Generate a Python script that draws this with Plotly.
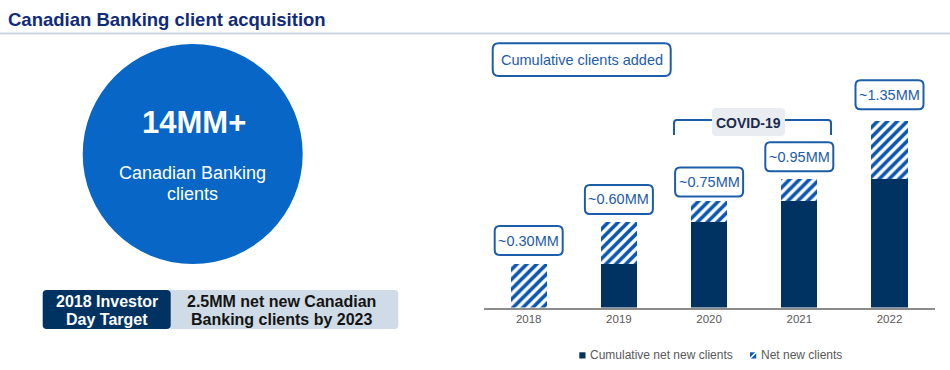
import plotly.graph_objects as go

# ---------------- data ----------------
years = [2018, 2019, 2020, 2021, 2022]
year_labels = ["2018", "2019", "2020", "2021", "2022"]
cumulative_net_new = [0.0, 0.30, 0.59, 0.735, 0.885]   # MM (bar heights as drawn)
net_new = [0.30, 0.29, 0.145, 0.15, 0.40]              # MM (bar heights as drawn)
total_labels = ["~0.30MM", "~0.60MM", "~0.75MM", "~0.95MM", "~1.35MM"]
series_names = ["Cumulative net new clients", "Net new clients"]

# ---------------- style / layout constants ----------------
W, H = 950, 370
FONT = "Arial, Liberation Sans, sans-serif"
NAVY = "#003361"
BLUE = "#0a55b2"
LBLUE = "#1d5ca8"
GREY = "#595959"
label_gap_px = [9, 8, 4.5, 8, 12]   # gap between bar top and value box (layout tweak)

# plot area in pixels
x_left_px, x_right_px = 483.6, 934.6
base_px, top_px = 307.5, 40.0
x_range = [2017.5, 2022.5]
y_max = 1.845
ppx = (x_right_px - x_left_px) / (x_range[1] - x_range[0])
ppu = (base_px - top_px) / y_max


def X(px):
    return px / W


def Y(py):
    return 1 - py / H


def rrect_path(x0, y0, x1, y1, rx, ry):
    # y0 < y1 in the shape's coordinate system (bottom, top)
    return (f"M {x0+rx},{y1} L {x1-rx},{y1} Q {x1},{y1} {x1},{y1-ry} "
            f"L {x1},{y0+ry} Q {x1},{y0} {x1-rx},{y0} L {x0+rx},{y0} "
            f"Q {x0},{y0} {x0},{y0+ry} L {x0},{y1-ry} Q {x0},{y1} {x0+rx},{y1} Z")


def rrect_px(x0, ytop, x1, ybot, r):
    return rrect_path(X(x0), Y(ybot), X(x1), Y(ytop), r / W, r / H)


def ann(text, x, y, size, color, xanchor="center", xref="paper", yref="paper"):
    return dict(text=text, x=x, y=y, xref=xref, yref=yref, xanchor=xanchor, yanchor="middle",
                showarrow=False, font=dict(family=FONT, size=size, color=color))


fig = go.Figure()
fig.add_trace(go.Bar(
    x=years, y=cumulative_net_new, name=series_names[0], width=0.4,
    marker=dict(color=NAVY, line=dict(width=0)), showlegend=False,
))
fig.add_trace(go.Bar(
    x=years, y=net_new, name=series_names[1], width=0.4,
    marker=dict(color="white", line=dict(width=0),
                pattern=dict(shape="/", fgcolor=BLUE, bgcolor="white", fgopacity=1,
                             fillmode="replace", size=7, solidity=0.52)),
    showlegend=False,
))

shapes = []
annotations = []

# title + rule
annotations.append(ann("<b>Canadian Banking client acquisition</b>", X(6), Y(19.5), 18.5, "#0f2b7a",
                       xanchor="left"))
shapes.append(dict(type="line", xref="paper", yref="paper", x0=0, x1=1, y0=Y(33.5), y1=Y(33.5),
                   line=dict(color="#c9d6e2", width=2)))

# circle
shapes.append(dict(type="circle", xref="paper", yref="paper", x0=X(82.7), x1=X(302.7),
                   y0=Y(264), y1=Y(44), fillcolor="#0766c6", line=dict(width=0)))
annotations.append(ann("<b>14MM+</b>", X(193.5), Y(123), 31, "white"))
annotations.append(ann("Canadian Banking", X(192.7), Y(172.5), 18, "white"))
annotations.append(ann("clients", X(192.7), Y(194.3), 18, "white"))

# target boxes
shapes.append(dict(type="path", xref="paper", yref="paper", path=rrect_px(168, 290, 398.3, 329, 4),
                   fillcolor="#cfdbe6", line=dict(width=0)))
shapes.append(dict(type="path", xref="paper", yref="paper", path=rrect_px(42.7, 290, 170.7, 329, 4),
                   fillcolor=NAVY, line=dict(width=0)))
for txt, cy in [("2018 Investor", 301.3), ("Day Target", 319.8)]:
    annotations.append(ann(f"<b>{txt}</b>", X(106.7), Y(cy), 16, "white"))
for txt, cy in [("2.5MM net new Canadian", 301.3), ("Banking clients by 2023", 319.8)]:
    annotations.append(ann(f"<b>{txt}</b>", X(281.7), Y(cy), 16, "#141414"))

# "Cumulative clients added" box
shapes.append(dict(type="path", xref="paper", yref="paper", path=rrect_px(492.7, 43.3, 670.7, 76, 6),
                   fillcolor="white", line=dict(color=LBLUE, width=2)))
annotations.append(ann("Cumulative clients added", X(581.7), Y(59.7), 14.5, LBLUE))

# COVID-19 bracket
bx0, bx1, by, byb, rr = 674, 831, 120, 135, 3
bracket = (f"M {X(bx0)},{Y(byb)} L {X(bx0)},{Y(by+rr)} Q {X(bx0)},{Y(by)} {X(bx0+rr)},{Y(by)} "
           f"L {X(bx1-rr)},{Y(by)} Q {X(bx1)},{Y(by)} {X(bx1)},{Y(by+rr)} L {X(bx1)},{Y(byb)}")
shapes.append(dict(type="path", xref="paper", yref="paper", path=bracket,
                   line=dict(color=LBLUE, width=2)))
shapes.append(dict(type="path", xref="paper", yref="paper", path=rrect_px(712, 108, 785, 136, 4),
                   fillcolor="#e9edf2", line=dict(width=0)))
annotations.append(ann("<b>COVID-19</b>", X(748), Y(122.8), 14, "#1c2b4a"))

# value boxes above bars (data coordinates)
box_w_px, box_h_px = 68, 29
for yr, c, n, lab, gap in zip(years, cumulative_net_new, net_new, total_labels, label_gap_px):
    tot = c + n
    hw = box_w_px / 2 / ppx
    yb = tot + gap / ppu
    yt = yb + box_h_px / ppu
    shapes.append(dict(type="path", xref="x", yref="y",
                       path=rrect_path(yr - hw, yb, yr + hw, yt, 5 / ppx, 5 / ppu),
                       fillcolor="white", line=dict(color=LBLUE, width=2)))
    annotations.append(ann(lab, yr, (yb + yt) / 2, 14.5, LBLUE, xref="x", yref="y"))

# custom legend
shapes.append(dict(type="rect", xref="paper", yref="paper", x0=X(579.3), x1=X(585.5),
                   y0=Y(358.5), y1=Y(352.3), fillcolor=NAVY, line=dict(width=0)))
annotations.append(ann(series_names[0], X(587.5), Y(355.3), 12, GREY, xanchor="left"))
shapes.append(dict(type="rect", xref="paper", yref="paper", x0=X(750), x1=X(756.2),
                   y0=Y(358.5), y1=Y(352.3), fillcolor=BLUE, line=dict(width=0)))
shapes.append(dict(type="line", xref="paper", yref="paper", x0=X(750), x1=X(756.2),
                   y0=Y(358.5), y1=Y(352.3), line=dict(color="white", width=1.6)))
annotations.append(ann(series_names[1], X(758.5), Y(355.3), 12, GREY, xanchor="left"))

fig.update_layout(
    width=W, height=H, margin=dict(l=0, r=0, t=0, b=0),
    paper_bgcolor="white", plot_bgcolor="white",
    barmode="stack", showlegend=False,
    font=dict(family=FONT),
    shapes=shapes, annotations=annotations,
    xaxis=dict(domain=[X(x_left_px), X(x_right_px)], range=x_range,
               tickvals=years, ticktext=year_labels, showgrid=False, zeroline=False,
               showline=True, linecolor="#8c8c8c", linewidth=1.5, ticks="",
               tickfont=dict(family=FONT, size=11.5, color=GREY), fixedrange=True),
    yaxis=dict(domain=[Y(base_px), Y(top_px)], range=[0, y_max], visible=False,
               showgrid=False, zeroline=False, fixedrange=True),
)

fig.write_html("out.html", config={"displayModeBar": False},
               post_script="document.body.style.margin='0';document.body.style.overflow='hidden';")
